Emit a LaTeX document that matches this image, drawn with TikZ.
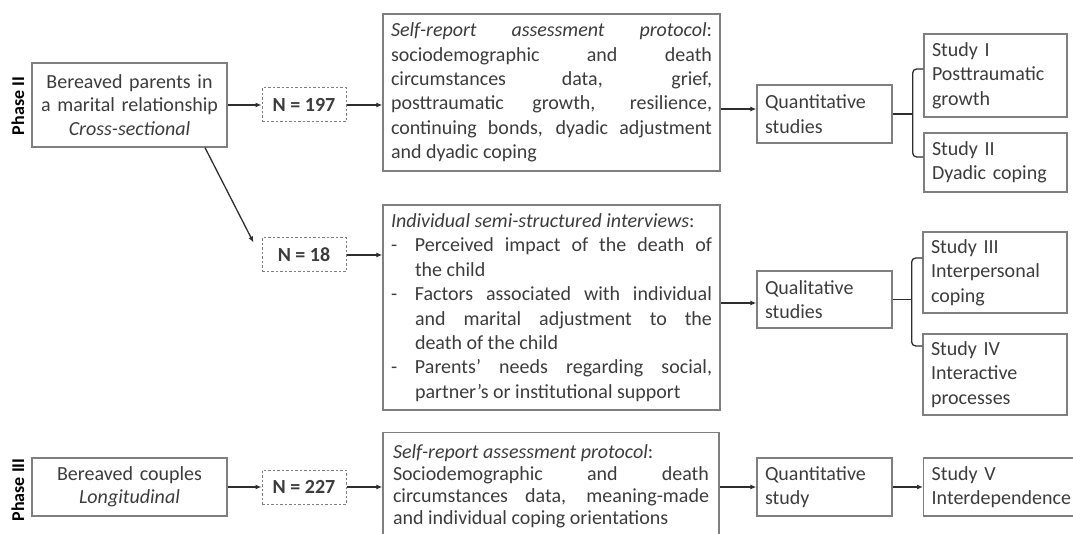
\documentclass[tikz,border=0pt]{standalone}
\usepackage{fontspec}
\setmainfont{Carlito}
\usetikzlibrary{arrows.meta}
\definecolor{ink}{HTML}{3C3C3C}
\definecolor{frame}{HTML}{7F7F7F}
\definecolor{wire}{HTML}{2E2E2E}
% hanging "-" item inside a justified box
\newcommand\dashitem{\par\noindent\hangindent=24pt\hangafter=1\makebox[24pt][l]{-}}
\tikzset{
  txt/.style={text=ink, font=\fontsize{20}{24.4}\selectfont, inner ysep=0pt},
  box/.style={txt, draw=frame, line width=1.3pt, inner xsep=8pt},
  sample/.style={draw=frame, dash pattern=on 2.5pt off 2pt, line width=1pt, text=ink,
    font=\fontsize{20}{24}\selectfont\bfseries, minimum width=84pt, minimum height=34pt, inner sep=0pt},
  phase/.style={text=black, font=\fontsize{18}{20}\selectfont\bfseries, rotate=90, inner sep=0pt},
  link/.style={draw=wire, line width=1.3pt, -{Latex[length=6pt,width=5pt]}},
  fork/.style={draw=wire, line width=1.3pt, rounded corners=4pt},
}
\begin{document}
\begin{tikzpicture}[x=1pt,y=-1pt]
\useasboundingbox (0,0) rectangle (1073,534);
\clip (0,0) rectangle (1073,534);

% ---------- Phase II ----------
\node[phase] (ph2) at (18,106) {Phase II};
\node[box, align=center, text width=179pt, minimum height=84pt,
      font=\fontsize{20}{23.5}\selectfont] (parents) at (129.5,105)
  {Bereaved parents in\\a marital relationship\\\textit{Cross-sectional}};
\node[sample] (n197) at (304,105) {N = 197};
\node[box, align=justify, text width=321pt, minimum height=157pt] (selfA) at (551.5,92.5)
  {\textit{Self-report assessment protocol}:\linebreak
   sociodemographic and death\linebreak
   circumstances data, grief,\linebreak
   posttraumatic growth, resilience,\linebreak
   continuing bonds, dyadic adjustment\linebreak
   and dyadic coping};
\node[box, align=left, text width=119pt, minimum height=58pt] (quantA) at (824.5,114)
  {Quantitative\\studies};
\node[box, align=left, text width=127pt, minimum height=83pt] (s1) at (995.5,75.5)
  {Study I\\Posttraumatic\\growth};
\node[box, align=left, text width=127pt, minimum height=59pt] (s2) at (995.5,162.5)
  {Study II\\Dyadic coping};

\node[sample] (n18) at (304,255) {N = 18};
\node[box, align=justify, text width=321pt, minimum height=205pt] (interv) at (551.5,307.5)
  {\textit{Individual semi-structured interviews}:
   \dashitem Perceived impact of the death of\linebreak the child
   \dashitem Factors associated with individual\linebreak and marital adjustment to the\linebreak death of the child
   \dashitem Parents’ needs regarding social,\linebreak partner’s or institutional support\par};
\node[box, align=left, text width=119pt, minimum height=57pt] (qual) at (824.5,299.5)
  {Qualitative\\studies};
\node[box, align=left, text width=128pt, minimum height=81pt] (s3) at (995,272.5)
  {Study III\\Interpersonal\\coping};
\node[box, align=left, text width=128pt, minimum height=81pt] (s4) at (995,374.5)
  {Study IV\\Interactive\\processes};

% ---------- Phase III ----------
\node[phase] (ph3) at (18,490) {Phase III};
\node[box, align=center, text width=179pt, minimum height=58pt,
      font=\fontsize{20}{23.5}\selectfont] (couples) at (129.5,487)
  {Bereaved couples\\\textit{Longitudinal}};
\node[sample] (n227) at (304,487) {N = 227};
\node[box, align=justify, text width=316pt, minimum width=336pt, anchor=north, inner ysep=12pt,
      font=\fontsize{20}{22}\selectfont] (selfB) at (551,432)
  {\textit{Self-report assessment protocol}:\par
   Sociodemographic and death\linebreak
   circumstances data, meaning-made\linebreak
   and individual coping orientations\par
   \rule{0pt}{24pt}};
\node[box, align=left, text width=119pt, minimum height=58pt] (quantB) at (824.5,487)
  {Quantitative\\study};
\node[box, align=left, text width=160pt, minimum height=58pt, anchor=west] (s5) at (923,487)
  {Study V\\Interdependence};

% ---------- connectors ----------
\coordinate (forkA) at ([xshift=20pt]quantA.east);
\coordinate (forkB) at ([xshift=19pt]qual.east);

\draw[link] (parents.east) -- (n197.west);
\draw[link] (n197.east) -- (n197.east -| selfA.west);
\draw[link] ([yshift=-16.5pt]selfA.east) -- ([yshift=-16.5pt]selfA.east -| quantA.west);
\draw[fork] (quantA.east) -- (forkA);
\draw[fork] ([yshift=6.5pt]s1.west) -| (forkA) |- ([yshift=5.5pt]s2.west);

\draw[link] ([xshift=75.5pt]parents.south) -- ([xshift=-8pt,yshift=-5pt]n18.north west);
\draw[link] (n18.east) -- (n18.east -| interv.west);
\draw[link] ([yshift=4.5pt]interv.east) -- ([yshift=4.5pt]interv.east -| qual.west);
\draw[fork] (qual.east) -- (forkB);
\draw[fork] ([yshift=14.5pt]s3.west) -| (forkB) |- ([yshift=28.5pt]s4.west);

\draw[link] (couples.east) -- (n227.west);
\draw[link] (n227.east) -- (n227.east -| selfB.west);
\draw[link] (quantB.west -| selfB.east) -- (quantB.west);
\draw[link] (quantB.east) -- (s5.west);
\end{tikzpicture}
\end{document}
